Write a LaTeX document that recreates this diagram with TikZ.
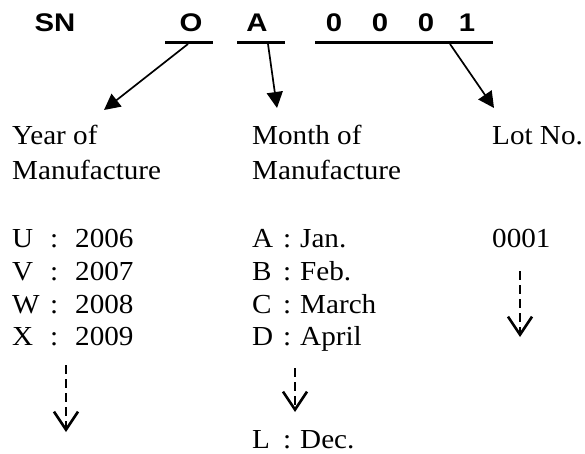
\documentclass[tikz,border=0pt]{standalone}
\usepackage{fontspec}
\setmainfont{Liberation Serif}[FakeStretch=1.06]
\newfontfamily\hdfont{Liberation Sans}[FakeStretch=1.15]
\usetikzlibrary{arrows.meta}
\begin{document}
\begin{tikzpicture}[x=1pt,y=-1pt,
  txt/.style={anchor=base west,inner sep=0pt,font=\fontsize{27.5}{33}\selectfont},
  hd/.style={anchor=base,inner sep=0pt,font=\hdfont\bfseries\fontsize{25.5}{30}\selectfont},
  uline/.style={line width=2.4pt},
  pointer/.style={line width=1.7pt,-{Triangle[length=16pt,width=16pt]}},
  cont/.style={line width=2.6pt,dash pattern=on 9pt off 5pt,-{Straight Barb[length=18pt,width=24pt,line width=2.6pt]}}
]
\useasboundingbox (0,0) rectangle (585,454);
% code line
\node[hd] (sn) at (55,32) {SN};
\node[hd] (cO) at (191,32) {O};
\node[hd] (cA) at (257,32) {A};
\node[hd] (d1) at (334,32) {0};
\node[hd] (d2) at (380,32) {0};
\node[hd] (d3) at (426,32) {0};
\node[hd] (d4) at (467,32) {1};
\coordinate (oL) at (165,42.7); \coordinate (oR) at (213,42.7);
\coordinate (aL) at (237,42.7); \coordinate (aR) at (285,42.7);
\coordinate (nL) at (315,42.7); \coordinate (nR) at (493,42.7);
\draw[uline] (oL) -- (oR);
\draw[uline] (aL) -- (aR);
\draw[uline] (nL) -- (nR);
% pointer arrows
\coordinate (oS) at (188,44); \coordinate (oE) at (104,110);
\coordinate (aS) at (268,44); \coordinate (aE) at (277,108);
\coordinate (nS) at (450,44); \coordinate (nE) at (494,108);
\draw[pointer] (oS) -- (oE);
\draw[pointer] (aS) -- (aE);
\draw[pointer] (nS) -- (nE);
% headings
\node[txt] (yh1) at (12,145) {Year of};
\node[txt] (yh2) at (12,179) {Manufacture};
\node[txt] (mh1) at (252,145) {Month of};
\node[txt] (mh2) at (252,179) {Manufacture};
\node[txt] (lh) at (492,145) {Lot No.};
% years
\node[txt] (yU) at (12,247) {U};
\node[txt] (yUc) at (50,247) {:};
\node[txt] (yUv) at (75,247) {2006};
\node[txt] (yV) at (12,280) {V};
\node[txt] (yVc) at (50,280) {:};
\node[txt] (yVv) at (75,280) {2007};
\node[txt] (yW) at (12,313) {W};
\node[txt] (yWc) at (50,313) {:};
\node[txt] (yWv) at (75,313) {2008};
\node[txt] (yX) at (12,345) {X};
\node[txt] (yXc) at (50,345) {:};
\node[txt] (yXv) at (75,345) {2009};
% months
\node[txt] (mA) at (252,247) {A};
\node[txt] (mAc) at (283,247) {:};
\node[txt] (mAv) at (300,247) {Jan.};
\node[txt] (mB) at (252,280) {B};
\node[txt] (mBc) at (283,280) {:};
\node[txt] (mBv) at (300,280) {Feb.};
\node[txt] (mC) at (252,313) {C};
\node[txt] (mCc) at (283,313) {:};
\node[txt] (mCv) at (300,313) {March};
\node[txt] (mD) at (252,345) {D};
\node[txt] (mDc) at (283,345) {:};
\node[txt] (mDv) at (300,345) {April};
\node[txt] (mL) at (252,448) {L};
\node[txt] (mLc) at (283,448) {:};
\node[txt] (mLv) at (300,448) {Dec.};
% lot
\node[txt] (lv) at (492,247) {0001};
% continuation arrows
\coordinate (yc1) at (66,365); \coordinate (yc2) at (66,432);
\coordinate (mc1) at (295,368); \coordinate (mc2) at (295,412);
\coordinate (lc1) at (520,271); \coordinate (lc2) at (520,337);
\draw[cont] (yc1) -- (yc2);
\draw[cont] (mc1) -- (mc2);
\draw[cont] (lc1) -- (lc2);
\end{tikzpicture}
\end{document}
